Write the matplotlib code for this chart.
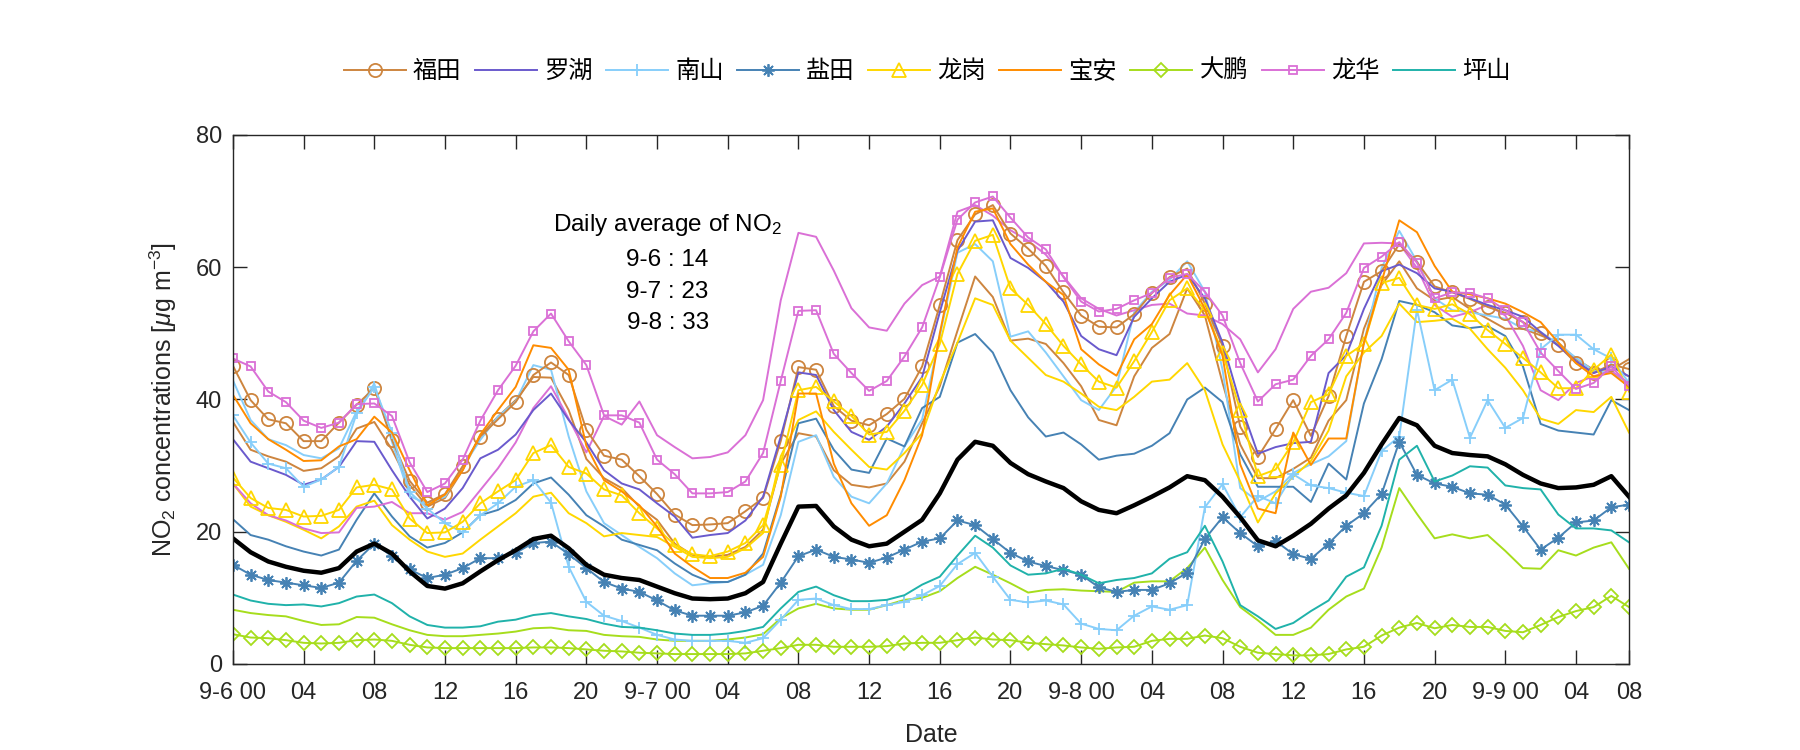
import matplotlib
matplotlib.use("Agg")
import matplotlib.pyplot as plt
import numpy as np

# hourly NO2, 9-6 00 .. 9-9 07 (80 points)
futian = [45.1, 39.9, 37.0, 36.4, 33.7, 33.7, 36.5, 39.2, 41.7, 33.9, 27.7, 24.4, 25.7, 29.9, 34.4, 37.0, 39.6, 43.7, 45.6, 43.7,
          35.4, 31.5, 30.9, 28.4, 25.7, 22.6, 21.0, 21.1, 21.3, 23.1, 25.1, 33.7, 44.9, 44.5, 39.0, 36.8, 36.1, 37.8, 40.1, 45.0,
          54.3, 64.1, 68.0, 69.4, 65.1, 62.8, 60.2, 56.2, 52.7, 51.0, 50.9, 52.9, 56.1, 58.5, 59.8, 54.5, 48.1, 35.9, 31.3, 35.5,
          39.9, 34.5, 40.5, 49.6, 57.8, 59.4, 63.5, 60.8, 57.1, 56.2, 55.2, 54.0, 53.1, 51.7, 50.0, 48.2, 45.5, 44.0, 45.3, 44.6]
luohu = [34.0, 30.6, 29.6, 28.6, 27.1, 27.9, 29.8, 33.7, 33.6, 29.3, 25.3, 22.0, 23.5, 26.6, 31.1, 32.4, 34.7, 38.4, 40.9, 36.9,
         33.5, 29.3, 27.3, 26.4, 24.3, 22.3, 19.1, 19.5, 19.8, 21.7, 25.3, 34.4, 44.1, 43.7, 38.4, 35.1, 33.9, 35.9, 39.4, 43.4,
         53.2, 62.5, 66.9, 67.1, 61.4, 59.9, 57.8, 54.8, 49.6, 47.6, 46.7, 52.5, 55.3, 57.8, 58.9, 55.3, 48.6, 39.4, 31.8, 32.8,
         33.4, 33.6, 44.0, 46.7, 53.7, 59.4, 60.4, 59.1, 56.8, 56.3, 55.3, 54.3, 53.5, 52.5, 50.2, 48.1, 45.8, 44.0, 45.0, 43.5]
nanshan = [37.6, 33.5, 30.3, 29.6, 26.8, 27.9, 29.8, 37.9, 41.9, 35.0, 26.0, 23.5, 21.3, 19.9, 22.5, 24.3, 26.8, 27.8, 24.4, 14.7,
           9.4, 7.3, 6.5, 5.5, 4.4, 3.7, 3.5, 3.5, 3.5, 3.2, 3.9, 6.7, 9.7, 9.9, 8.9, 8.3, 8.3, 8.9, 9.4, 10.4,
           11.8, 15.1, 16.8, 13.2, 9.7, 9.3, 9.6, 9.0, 6.1, 5.3, 5.1, 7.3, 8.7, 8.2, 8.9, 23.7, 27.2, 22.2, 25.4, 24.3,
           28.7, 27.0, 26.6, 25.9, 25.4, 32.2, 34.4, 53.6, 41.4, 43.0, 34.2, 39.9, 35.7, 37.2, 47.6, 49.8, 49.8, 47.6, 46.2, 42.5]
yantian = [15.0, 13.5, 12.7, 12.3, 11.9, 11.5, 12.3, 15.6, 18.2, 16.3, 14.3, 13.0, 13.5, 14.5, 16.0, 16.0, 16.8, 18.3, 18.5, 16.6,
           14.5, 12.4, 11.4, 10.9, 9.6, 8.1, 7.3, 7.3, 7.3, 7.8, 8.8, 12.3, 16.3, 17.3, 16.2, 15.8, 15.3, 16.1, 17.3, 18.5,
           19.0, 21.7, 21.0, 18.9, 16.8, 15.5, 14.8, 14.2, 13.5, 11.6, 10.9, 11.2, 11.2, 12.2, 13.8, 18.9, 22.2, 19.8, 17.8, 18.6,
           16.6, 15.9, 18.2, 20.9, 22.8, 25.7, 33.6, 28.6, 27.3, 26.8, 25.8, 25.6, 24.1, 20.8, 17.3, 19.1, 21.4, 21.7, 23.7, 24.1]
longgang = [28.2, 25.1, 23.6, 23.3, 22.3, 22.4, 23.3, 26.7, 27.1, 26.4, 22.0, 19.8, 19.9, 21.5, 24.3, 26.1, 27.8, 31.9, 33.1, 29.8,
            28.8, 26.4, 25.5, 22.8, 20.5, 18.0, 16.6, 16.3, 17.0, 18.3, 21.0, 30.1, 41.4, 41.9, 39.7, 37.5, 34.7, 35.1, 38.3, 42.2,
            48.4, 59.0, 64.0, 64.9, 56.8, 54.3, 51.4, 48.1, 45.3, 42.7, 41.8, 45.8, 50.2, 55.0, 56.8, 53.5, 47.1, 38.4, 28.4, 29.4,
            33.5, 39.6, 40.8, 46.6, 48.4, 57.6, 58.4, 54.3, 53.7, 54.4, 52.9, 50.5, 48.4, 46.3, 44.1, 41.7, 41.7, 44.5, 46.8, 41.2]
baoan = [40.7, 36.4, 34.0, 32.4, 30.7, 30.8, 32.9, 34.0, 37.4, 35.0, 29.3, 24.0, 25.6, 29.3, 34.7, 38.4, 41.9, 48.2, 47.8, 44.5,
         33.0, 27.8, 26.1, 24.0, 20.8, 16.7, 14.7, 13.0, 13.0, 13.8, 16.2, 25.3, 40.9, 40.9, 30.3, 24.3, 20.9, 22.5, 27.8, 34.6,
         50.0, 63.0, 68.4, 68.9, 63.5, 60.4, 57.8, 55.8, 47.6, 45.3, 43.6, 49.1, 51.4, 55.8, 58.9, 53.7, 46.6, 30.2, 23.5, 22.8,
         35.0, 30.1, 34.1, 34.1, 48.6, 57.8, 67.1, 65.3, 60.2, 56.3, 55.9, 55.3, 54.5, 53.2, 51.7, 48.6, 45.5, 43.5, 44.0, 41.9]
dapeng = [4.5, 4.0, 3.9, 3.6, 3.2, 3.1, 3.2, 3.6, 3.7, 3.5, 2.9, 2.5, 2.4, 2.4, 2.4, 2.4, 2.4, 2.5, 2.5, 2.4,
          2.2, 2.0, 1.9, 1.7, 1.6, 1.5, 1.5, 1.5, 1.5, 1.6, 2.0, 2.4, 2.9, 2.9, 2.6, 2.6, 2.6, 2.7, 3.1, 3.2,
          3.2, 3.6, 4.0, 3.7, 3.6, 3.2, 3.0, 2.8, 2.5, 2.3, 2.5, 2.6, 3.5, 3.8, 3.8, 4.3, 3.9, 2.6, 1.7, 1.5,
          1.3, 1.3, 1.5, 2.2, 2.6, 4.3, 5.5, 6.2, 5.4, 5.9, 5.6, 5.6, 5.0, 4.8, 5.9, 7.1, 8.0, 8.6, 10.3, 8.6]
longhua = [46.2, 45.0, 41.2, 39.6, 36.8, 35.7, 36.5, 39.3, 39.4, 37.5, 30.5, 26.0, 27.3, 30.9, 36.8, 41.4, 45.1, 50.3, 53.0, 48.8,
           45.2, 37.6, 37.6, 36.5, 30.9, 28.7, 25.8, 25.8, 26.0, 27.6, 31.9, 42.8, 53.4, 53.5, 46.9, 44.0, 41.3, 42.8, 46.5, 50.9,
           58.5, 67.2, 69.8, 70.7, 67.5, 64.5, 62.7, 58.5, 54.8, 53.3, 53.7, 55.0, 56.1, 58.4, 59.0, 56.3, 52.7, 45.5, 39.7, 42.3,
           43.0, 46.6, 49.1, 53.1, 59.9, 61.6, 63.8, 60.7, 55.3, 56.2, 56.1, 55.3, 53.5, 51.7, 47.1, 44.3, 41.6, 42.5, 45.0, 42.1]
pingshan = [10.5, 9.6, 9.1, 8.9, 9.0, 8.7, 9.2, 10.2, 10.5, 9.2, 7.2, 5.9, 5.5, 5.5, 5.7, 6.4, 6.7, 7.4, 7.7, 7.2,
            6.8, 6.1, 5.6, 5.5, 5.1, 4.6, 4.4, 4.4, 4.6, 5.0, 5.6, 8.4, 10.9, 11.7, 10.4, 9.5, 9.5, 9.7, 10.4, 12.0,
            13.2, 16.4, 19.4, 17.6, 14.9, 13.5, 13.7, 14.4, 13.5, 12.2, 12.7, 13.0, 13.7, 15.9, 16.9, 20.9, 15.5, 8.9, 7.2, 5.3,
            6.2, 8.0, 9.6, 13.2, 14.6, 20.9, 30.9, 33.0, 27.6, 28.5, 29.9, 29.7, 27.0, 26.6, 26.4, 22.6, 20.5, 20.5, 20.2, 18.4]

# second set of curves (no markers, not in legend)
futian_b = [36.6, 32.4, 31.4, 30.6, 29.2, 29.6, 31.4, 35.6, 36.6, 32.4, 27.1, 23.8, 25.1, 29.3, 34.6, 37.4, 39.9, 43.4, 43.3, 38.4,
            31.0, 28.1, 26.6, 23.8, 21.8, 18.2, 16.5, 16.2, 16.5, 17.7, 20.3, 30.3, 34.9, 34.4, 29.3, 27.1, 26.7, 27.3, 30.6, 36.4,
            42.0, 50.4, 58.6, 55.5, 48.9, 49.2, 48.4, 45.5, 42.0, 36.9, 36.1, 43.5, 47.8, 49.9, 56.8, 52.7, 42.5, 33.2, 28.1, 28.1,
            29.5, 31.2, 36.8, 39.9, 50.7, 57.3, 60.9, 56.8, 55.0, 55.5, 53.7, 52.2, 50.7, 50.7, 49.7, 48.6, 46.1, 44.5, 44.5, 46.1]
nanshan_b = [42.9, 36.9, 34.0, 33.1, 31.6, 31.1, 32.6, 38.2, 42.4, 33.6, 25.4, 24.2, 25.3, 29.8, 33.9, 37.4, 39.7, 45.2, 44.5, 34.4,
             26.1, 21.3, 19.5, 17.7, 16.0, 13.7, 11.9, 12.2, 12.4, 13.5, 15.0, 22.5, 33.6, 34.6, 28.3, 25.3, 24.3, 27.3, 32.9, 37.0,
             49.6, 62.2, 63.5, 60.9, 49.5, 50.3, 47.1, 43.5, 39.9, 38.4, 42.0, 53.2, 56.3, 58.1, 60.9, 56.3, 44.5, 26.6, 24.6, 26.1,
             28.9, 30.2, 31.4, 33.7, 48.6, 59.9, 65.5, 60.9, 55.3, 53.5, 53.2, 52.7, 52.2, 50.7, 50.2, 48.4, 46.3, 44.3, 44.0, 42.5]
yantian_b = [21.9, 19.5, 18.8, 17.8, 17.0, 16.4, 17.3, 21.8, 25.8, 22.3, 19.3, 17.6, 18.3, 19.9, 22.5, 23.3, 24.8, 27.3, 28.2, 25.6,
             22.5, 20.8, 18.8, 18.0, 17.2, 15.2, 13.5, 12.4, 12.4, 13.5, 16.7, 25.6, 36.4, 37.1, 32.4, 29.4, 28.9, 34.1, 32.9, 38.7,
             40.4, 48.6, 49.9, 47.1, 41.4, 37.3, 34.4, 35.0, 33.2, 30.9, 31.5, 31.8, 33.0, 34.9, 40.0, 41.8, 39.6, 31.7, 26.8, 26.8,
             26.8, 24.5, 30.3, 27.9, 39.4, 46.1, 54.9, 54.3, 53.2, 51.2, 50.8, 51.1, 49.6, 45.0, 36.3, 35.3, 35.0, 34.7, 39.9, 38.4]
longgang_b = [27.3, 23.8, 22.5, 21.5, 20.3, 19.0, 20.8, 23.8, 24.7, 21.0, 18.8, 17.0, 16.2, 16.7, 18.8, 20.8, 22.8, 25.3, 25.9, 22.8,
              21.3, 19.3, 19.8, 19.5, 19.2, 17.7, 16.2, 16.0, 16.2, 17.5, 19.8, 31.4, 36.9, 38.2, 35.1, 32.4, 29.8, 29.4, 31.9, 34.9,
              42.5, 48.6, 55.3, 54.3, 48.9, 46.3, 43.7, 42.7, 40.9, 38.9, 38.4, 40.4, 42.7, 43.0, 45.5, 41.4, 33.2, 27.6, 21.4, 25.8,
              28.3, 30.7, 35.3, 43.5, 47.1, 49.6, 54.5, 51.7, 51.9, 52.2, 50.7, 47.6, 44.8, 41.4, 37.1, 36.3, 38.4, 38.1, 40.4, 35.0]
dapeng_b = [8.2, 7.7, 7.4, 7.2, 6.5, 5.9, 6.0, 7.1, 7.0, 6.0, 5.1, 4.4, 4.2, 4.2, 4.4, 4.6, 4.9, 5.4, 5.5, 5.1,
            5.0, 4.4, 4.2, 4.1, 3.7, 3.5, 3.5, 3.5, 3.7, 4.0, 4.5, 6.9, 8.4, 9.1, 8.4, 8.2, 8.2, 8.9, 9.7, 10.0,
            11.0, 13.0, 14.7, 13.5, 12.2, 10.8, 11.2, 11.3, 11.1, 11.0, 10.9, 12.3, 12.5, 12.5, 14.5, 17.6, 12.7, 8.6, 6.6, 4.4,
            4.4, 5.5, 8.2, 10.2, 11.4, 17.6, 26.6, 22.7, 19.0, 19.6, 19.0, 19.5, 17.1, 14.5, 14.4, 17.2, 16.4, 17.6, 18.4, 14.4]
longhua_b = [27.3, 24.3, 22.5, 21.7, 20.5, 19.8, 19.9, 23.6, 23.8, 24.5, 22.8, 22.8, 21.8, 23.0, 26.3, 29.6, 33.5, 38.7, 42.0, 37.1,
             32.0, 37.5, 36.2, 39.7, 34.6, 32.8, 31.1, 31.3, 32.0, 34.6, 39.9, 55.0, 65.2, 64.6, 59.5, 53.8, 50.9, 50.4, 54.5, 57.3,
             58.6, 68.4, 69.4, 67.8, 65.6, 64.0, 61.9, 58.6, 55.3, 53.7, 52.7, 53.5, 54.3, 54.5, 53.0, 52.7, 51.4, 49.1, 44.1, 47.6,
             53.7, 56.3, 56.9, 59.1, 63.6, 63.7, 63.6, 59.9, 54.3, 52.5, 53.2, 54.3, 52.7, 48.1, 41.4, 39.9, 42.5, 43.5, 44.3, 42.5]

mean_all = [19.0, 16.9, 15.5, 14.7, 14.1, 13.8, 14.5, 17.0, 18.2, 16.7, 14.0, 11.8, 11.4, 12.2, 14.0, 15.7, 17.2, 18.9, 19.4, 17.5,
            15.0, 13.5, 13.0, 12.7, 11.7, 10.7, 9.9, 9.8, 9.9, 10.7, 12.4, 18.2, 23.8, 23.9, 20.8, 18.8, 17.8, 18.2, 20.0, 21.8,
            25.8, 30.9, 33.6, 33.0, 30.4, 28.7, 27.6, 26.6, 24.6, 23.3, 22.8, 24.0, 25.3, 26.7, 28.4, 27.8, 25.3, 22.2, 18.7, 17.8,
            19.4, 21.2, 23.5, 25.5, 28.9, 33.2, 37.2, 36.1, 33.0, 31.9, 31.6, 31.4, 30.2, 28.6, 27.3, 26.6, 26.7, 27.1, 28.4, 25.3]

names = ['福田', '罗湖', '南山', '盐田', '龙岗', '宝安', '大鹏', '龙华', '坪山']
tick_pos = [0, 4, 8, 12, 16, 20, 24, 28, 32, 36, 40, 44, 48, 52, 56, 60, 64, 68, 72, 76, 79]
tick_lab = ['9-6 00', '04', '08', '12', '16', '20', '9-7 00', '04', '08', '12', '16', '20',
            '9-8 00', '04', '08', '12', '16', '20', '9-9 00', '04', '08']
daily_avg = [('9-6', 14), ('9-7', 23), ('9-8', 33)]

c_ft = '#CD853F'
c_lh = '#6A5ACD'
c_ns = '#87CEFA'
c_yt = '#4682B4'
c_lg = '#FFD700'
c_ba = '#FF8C00'
c_dp = '#A6DD1C'
c_lhua = '#DA70D6'
c_ps = '#20B2AA'

plt.rcParams['font.family'] = ['Liberation Sans', 'Noto Sans CJK SC', 'DejaVu Sans']
plt.rcParams['mathtext.fontset'] = 'custom'
plt.rcParams['mathtext.rm'] = 'Liberation Sans'
plt.rcParams['mathtext.it'] = 'Liberation Sans:italic'
plt.rcParams['axes.unicode_minus'] = False

hrs = np.arange(len(mean_all))
fig = plt.figure(figsize=(18, 7.5), dpi=100)
ax = fig.add_axes([0.1294, 0.1147, 0.7756, 0.7053])

lw = 1.4
# companion curves
for d, c in [(futian_b, c_ft), (nanshan_b, c_ns), (yantian_b, c_yt),
             (longgang_b, c_lg), (dapeng_b, c_dp), (longhua_b, c_lhua)]:
    ax.plot(hrs, d, color=c, lw=lw)

mk = dict(fillstyle='none', mew=1.3)
h = []
h += ax.plot(hrs, futian, color=c_ft, lw=lw, marker='o', ms=9.5, **mk)
h += ax.plot(hrs, luohu, color=c_lh, lw=lw)
h += ax.plot(hrs, nanshan, color=c_ns, lw=lw, marker='+', ms=9, mew=1.3)
h += ax.plot(hrs, yantian, color=c_yt, lw=lw, marker=(8, 2, 0), ms=9, mew=1.3)
h += ax.plot(hrs, longgang, color=c_lg, lw=lw, marker='^', ms=9.5, **mk)
h += ax.plot(hrs, baoan, color=c_ba, lw=lw)
h += ax.plot(hrs, dapeng, color=c_dp, lw=lw, marker='D', ms=7.3, **mk)
h += ax.plot(hrs, longhua, color=c_lhua, lw=lw, marker='s', ms=6.3, **mk)
h += ax.plot(hrs, pingshan, color=c_ps, lw=lw)
ax.plot(hrs, mean_all, color='black', lw=3.2)

ax.set_xlim(0, 79)
ax.set_ylim(0, 80)
ax.set_xticks(tick_pos)
ax.set_xticklabels(tick_lab)
ax.set_yticks([0, 20, 40, 60, 80])
ax.tick_params(direction='in', top=True, right=True, length=10, width=1,
               labelsize=17, colors='#262626')
ax.tick_params(axis='x', pad=13)
ax.tick_params(axis='y', pad=8)
for s in ax.spines.values():
    s.set_color('#262626')
    s.set_linewidth(1)
ax.set_xlabel('Date', fontsize=18, color='#262626', labelpad=14)
ax.set_ylabel('NO$_2$ concentrations [$\\mu$g m$^{-3}$]', fontsize=18, color='#262626', labelpad=12)

ax.text(24.6, 66.4, 'Daily average of NO$_2$', ha='center', va='center', fontsize=17.5)
for i, (d, v) in enumerate(daily_avg):
    ax.text(24.6, 61.1 - 4.8 * i, '%s : %d' % (d, v), ha='center', va='center', fontsize=17.5)

fig.legend(h, names, loc='center', bbox_to_anchor=(0.515, 0.905), ncol=9, frameon=False,
           prop={'family': ['Noto Sans CJK SC'], 'size': 17.5}, handlelength=2.55,
           columnspacing=0.55, handletextpad=0.3)

fig.savefig('out.png', dpi=100)
